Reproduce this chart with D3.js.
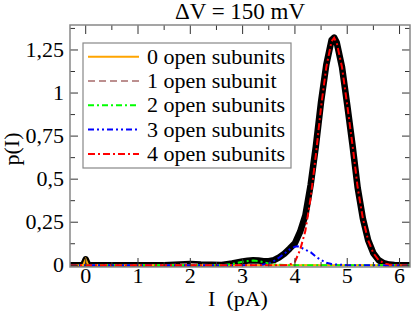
<!DOCTYPE html>
<html><head><meta charset="utf-8">
<script src="https://cdn.jsdelivr.net/npm/d3@7"></script>
<style>html,body{margin:0;padding:0;background:#fff;}svg{display:block;}</style>
</head><body>
<script>
// ---- data ----
const title = "\u0394V = 150 mV";
const xLabel = "I\u00a0\u00a0(pA)";
const yLabel = "p(I)";
const xTicks = [0,1,2,3,4,5,6];
const yTicks = [0,0.25,0.5,0.75,1,1.25];
const yTickLabels = ["0","0,25","0,5","0,75","1","1,25"];
const seriesNames = ["0 open subunits","1 open subunit","2 open subunits","3 open subunits","4 open subunits"];
const seriesColors = ["#ffa500","#bc8f8f","#00ff00","#0000ff","#ff0000"];
const seriesDash = [null,"7,4","6,3,2,3","6,3,2,3,2,3","7,3,2,3"];

const open0 = [[-0.3,0],[-0.05,0],[0,0.035],[0.05,0],[6.2,0]];
const open1 = [[-0.3,0],[1.5,0],[1.8,0.004],[2.0,0.007],[2.2,0.004],[2.5,0],[6.2,0]];
const open2 = [[-0.3,0],[2.6,0],[2.8,0.008],[3.0,0.02],[3.1,0.025],[3.2,0.027],[3.3,0.025],[3.4,0.018],[3.5,0.011],[3.6,0.005],[3.8,0.001],[4.0,0],[6.2,0]];
const open3 = [[-0.3,0],[3.3,0],[3.4,0.005],[3.5,0.012],[3.6,0.025],[3.7,0.045],[3.8,0.068],[3.9,0.092],[4.0,0.108],[4.05,0.11],[4.1,0.105],[4.2,0.09],[4.3,0.076],[4.4,0.05],[4.5,0.03],[4.6,0.015],[4.7,0.007],[4.8,0.004],[5.0,0.001],[5.2,0],[6.2,0]];
const open4 = [[-0.3,0],[3.8,0],[3.9,0.004],[4.0,0.02],[4.1,0.09],[4.2,0.2],[4.3,0.39],[4.4,0.64],[4.5,0.92],[4.6,1.15],[4.7,1.3],[4.75,1.32],[4.8,1.29],[4.9,1.15],[5.0,0.93],[5.1,0.7],[5.2,0.45],[5.3,0.27],[5.4,0.145],[5.5,0.07],[5.6,0.03],[5.7,0.012],[5.8,0.004],[5.9,0.001],[6.0,0],[6.2,0]];
const total = [[-0.3,0],[-0.05,0],[0,0.035],[0.05,0],[1.5,0],[1.8,0.004],[2.0,0.008],[2.2,0.005],[2.6,0.002],[2.8,0.01],[3.0,0.022],[3.1,0.027],[3.2,0.029],[3.3,0.028],[3.4,0.024],[3.5,0.024],[3.6,0.03],[3.7,0.046],[3.8,0.068],[3.9,0.097],[4.0,0.128],[4.1,0.195],[4.2,0.29],[4.3,0.466],[4.4,0.69],[4.5,0.95],[4.6,1.165],[4.7,1.307],[4.75,1.322],[4.8,1.293],[4.9,1.151],[5.0,0.931],[5.1,0.7],[5.2,0.45],[5.3,0.27],[5.4,0.145],[5.5,0.07],[5.6,0.03],[5.7,0.012],[5.8,0.004],[5.9,0.001],[6.0,0],[6.2,0]];
const seriesData = [open0,open1,open2,open3,open4];

// ---- layout ----
const W = 415, H = 312;
const L = 70, R = 410, T = 25, B = 267;
const FONT = "'Liberation Serif','Times New Roman',serif";

const svg = d3.select("body").append("svg").attr("width",W).attr("height",H);
const x = d3.scaleLinear().domain([-0.3,6.2]).range([L,R]);
const y = d3.scaleLinear().domain([-0.01,1.395]).range([B,T]);

function txt(g, s, px, py, size, anchor, rot){
  return g.append("text").attr("transform",`translate(${px},${py})${rot?` rotate(${rot})`:""}`)
    .attr("font-family",FONT).attr("font-size",size)
    .attr("text-anchor",anchor).attr("fill","#000").text(s);
}

// data lines (clipped)
svg.append("clipPath").attr("id","clip").append("rect").attr("x",L).attr("y",T).attr("width",R-L).attr("height",B-T);
const line = d3.line().x(d=>x(d[0])).y(d=>y(d[1]));
const plot = svg.append("g").attr("clip-path","url(#clip)");
plot.append("path").datum(total).attr("d",line).attr("fill","none").attr("stroke","#000").attr("stroke-width",6.5).attr("stroke-linejoin","round");
[1,0,2,3,4].forEach(i=>{
  plot.append("path").datum(seriesData[i]).attr("d",line).attr("fill","none").attr("stroke",seriesColors[i])
    .attr("stroke-width",2).attr("stroke-dasharray",seriesDash[i]);
});

// axes with inward ticks on all four sides
const tickCol = "#333";
const xMinor = d3.range(0,6.21,0.5).filter(v=>Math.abs(v-Math.round(v))>1e-6);
const yMinor = d3.range(0.125,1.4,0.25);
const ax = svg.append("g");
function tickLines(vals, len, isX){
  vals.forEach(v=>{
    if(isX){
      ax.append("line").attr("x1",x(v)).attr("x2",x(v)).attr("y1",B).attr("y2",B-len).attr("stroke",tickCol);
      ax.append("line").attr("x1",x(v)).attr("x2",x(v)).attr("y1",T).attr("y2",T+len).attr("stroke",tickCol);
    } else {
      ax.append("line").attr("y1",y(v)).attr("y2",y(v)).attr("x1",L).attr("x2",L+len).attr("stroke",tickCol);
      ax.append("line").attr("y1",y(v)).attr("y2",y(v)).attr("x1",R).attr("x2",R-len).attr("stroke",tickCol);
    }
  });
}
tickLines(xTicks,9,true); tickLines(xMinor,5,true);
tickLines(yTicks,8,false); tickLines(yMinor,5,false);
ax.append("rect").attr("x",L).attr("y",T).attr("width",R-L).attr("height",B-T).attr("fill","none").attr("stroke","#888").attr("stroke-width",1.5);

// tick labels
xTicks.forEach(v=>txt(svg, String(v), x(v), 283, 22, "middle"));
yTicks.forEach((v,i)=>txt(svg, yTickLabels[i], 64, y(v)+7, 22, "end"));

// axis titles
txt(svg, xLabel, 238, 306, 22, "middle");
txt(svg, yLabel, 19, 149, 22, "middle", -90);
txt(svg, title, 240, 19, 23, "middle");

// legend
const lg = svg.append("g");
lg.append("rect").attr("x",83).attr("y",43).attr("width",208).attr("height",125).attr("fill","#fff").attr("stroke","#888").attr("stroke-width",1.2);
seriesNames.forEach((n,i)=>{
  const ry = 56.7 + i*24.3;
  lg.append("line").attr("x1",88).attr("x2",139).attr("y1",ry).attr("y2",ry)
    .attr("stroke",seriesColors[i]).attr("stroke-width",2).attr("stroke-dasharray",seriesDash[i]);
  txt(lg, n, 147, ry+7, 22, "start");
});
</script>
</body></html>
